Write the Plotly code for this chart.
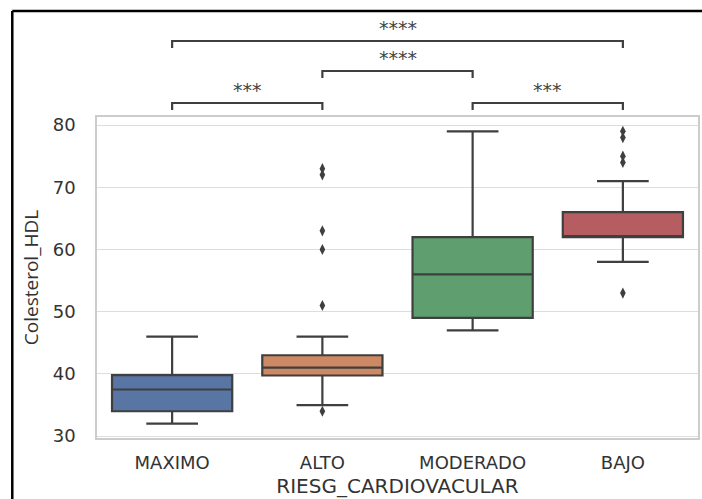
import plotly.graph_objects as go

# ---- data ----
categories = ["MAXIMO", "ALTO", "MODERADO", "BAJO"]
q1 = [34, 39.75, 49, 62]
median = [37.5, 41, 56, 62]
q3 = [39.8, 43, 62, 66]
lower_whisker = [32, 35, 47, 58]
upper_whisker = [46, 46, 79, 71]
outliers = {
    "MAXIMO": [],
    "ALTO": [34, 51, 60, 63, 72, 73],
    "MODERADO": [],
    "BAJO": [53, 74, 75, 78, 79],
}
colors = ["#5975a4", "#cc8963", "#5f9e6e", "#b55d60"]
y_ticks = [30, 40, 50, 60, 70, 80]

# significance brackets: (group a, group b, label, level)
brackets = [
    ("MAXIMO", "ALTO", "***", 0),
    ("MODERADO", "BAJO", "***", 0),
    ("ALTO", "MODERADO", "****", 1),
    ("MAXIMO", "BAJO", "****", 2),
]

# ---- layout geometry (pixels) ----
W, H = 702, 499
ML, MR, MT, MB = 97, 2, 117, 61
plot_h = H - MT - MB
plot_w = W - ML - MR


def py(p):  # pixel y -> paper y
    return (H - MB - p) / plot_h


def px(p):  # pixel x -> paper x
    return (p - ML) / plot_w


line_col = "#3f3f3f"
text_col = "#333333"
fig = go.Figure()

for i, c in enumerate(categories):
    fig.add_trace(go.Box(
        x=[c], q1=[q1[i]], median=[median[i]], q3=[q3[i]],
        lowerfence=[lower_whisker[i]], upperfence=[upper_whisker[i]],
        fillcolor=colors[i], line=dict(color=line_col, width=2.2),
        width=0.8, whiskerwidth=0.43, boxpoints=False,
        showlegend=False, hoverinfo="skip",
    ))
    if outliers[c]:
        fig.add_trace(go.Scatter(
            x=[c] * len(outliers[c]), y=outliers[c], mode="markers",
            marker=dict(symbol="diamond-tall", size=8, color=line_col),
            showlegend=False, hoverinfo="skip",
        ))

# brackets
row_line_px = [103, 71, 41]
tick_px = 7
text_offset_px = 13
shapes = []
annotations = []
for a, b, lab, lvl in brackets:
    xa, xb = categories.index(a), categories.index(b)
    yl = py(row_line_px[lvl])
    yt = py(row_line_px[lvl] + tick_px)
    shapes.append(dict(
        type="path", xref="x", yref="paper",
        path=f"M {xa},{yt} L {xa},{yl} L {xb},{yl} L {xb},{yt}",
        line=dict(color=line_col, width=2.2),
    ))
    annotations.append(dict(
        x=(xa + xb) / 2, xref="x", y=py(row_line_px[lvl] - text_offset_px), yref="paper",
        text=lab, showarrow=False, xanchor="center", yanchor="middle",
        font=dict(family="DejaVu Sans", size=19, color="#444444"),
    ))

# black outer frame (left & top edges)
shapes.append(dict(type="line", xref="paper", yref="paper",
                   x0=px(12), x1=px(12), y0=py(H + 5), y1=py(11),
                   line=dict(color="black", width=2.5)))
shapes.append(dict(type="line", xref="paper", yref="paper",
                   x0=px(12), x1=px(W + 5), y0=py(11), y1=py(11),
                   line=dict(color="black", width=2.5)))

fig.update_layout(
    width=W, height=H,
    margin=dict(l=ML, r=MR, t=MT, b=MB),
    paper_bgcolor="white", plot_bgcolor="white",
    boxmode="overlay",
    shapes=shapes, annotations=annotations,
    font=dict(family="DejaVu Sans", color=text_col),
)
fig.update_xaxes(
    type="category", categoryorder="array", categoryarray=categories,
    range=[-0.5, 3.5], showgrid=False, zeroline=False,
    showline=True, mirror=True, linecolor="#cccccc", linewidth=1.5,
    ticks="", ticklabelstandoff=8,
    tickfont=dict(family="DejaVu Sans", size=18, color=text_col),
    title=dict(text="RIESG_CARDIOVACULAR", standoff=7,
               font=dict(family="DejaVu Sans", size=20, color=text_col)),
)
fig.update_yaxes(
    range=[29.7, 81.3], tickvals=y_ticks, showgrid=True,
    gridcolor="#dddddd", gridwidth=1, zeroline=False,
    showline=True, mirror=True, linecolor="#cccccc", linewidth=1.5,
    ticks="", ticklabelstandoff=16,
    tickfont=dict(family="DejaVu Sans", size=18, color=text_col),
    title=dict(text="Colesterol_HDL", standoff=9,
               font=dict(family="Open Sans", size=19, color=text_col)),
)

fig.write_html("out.html")
